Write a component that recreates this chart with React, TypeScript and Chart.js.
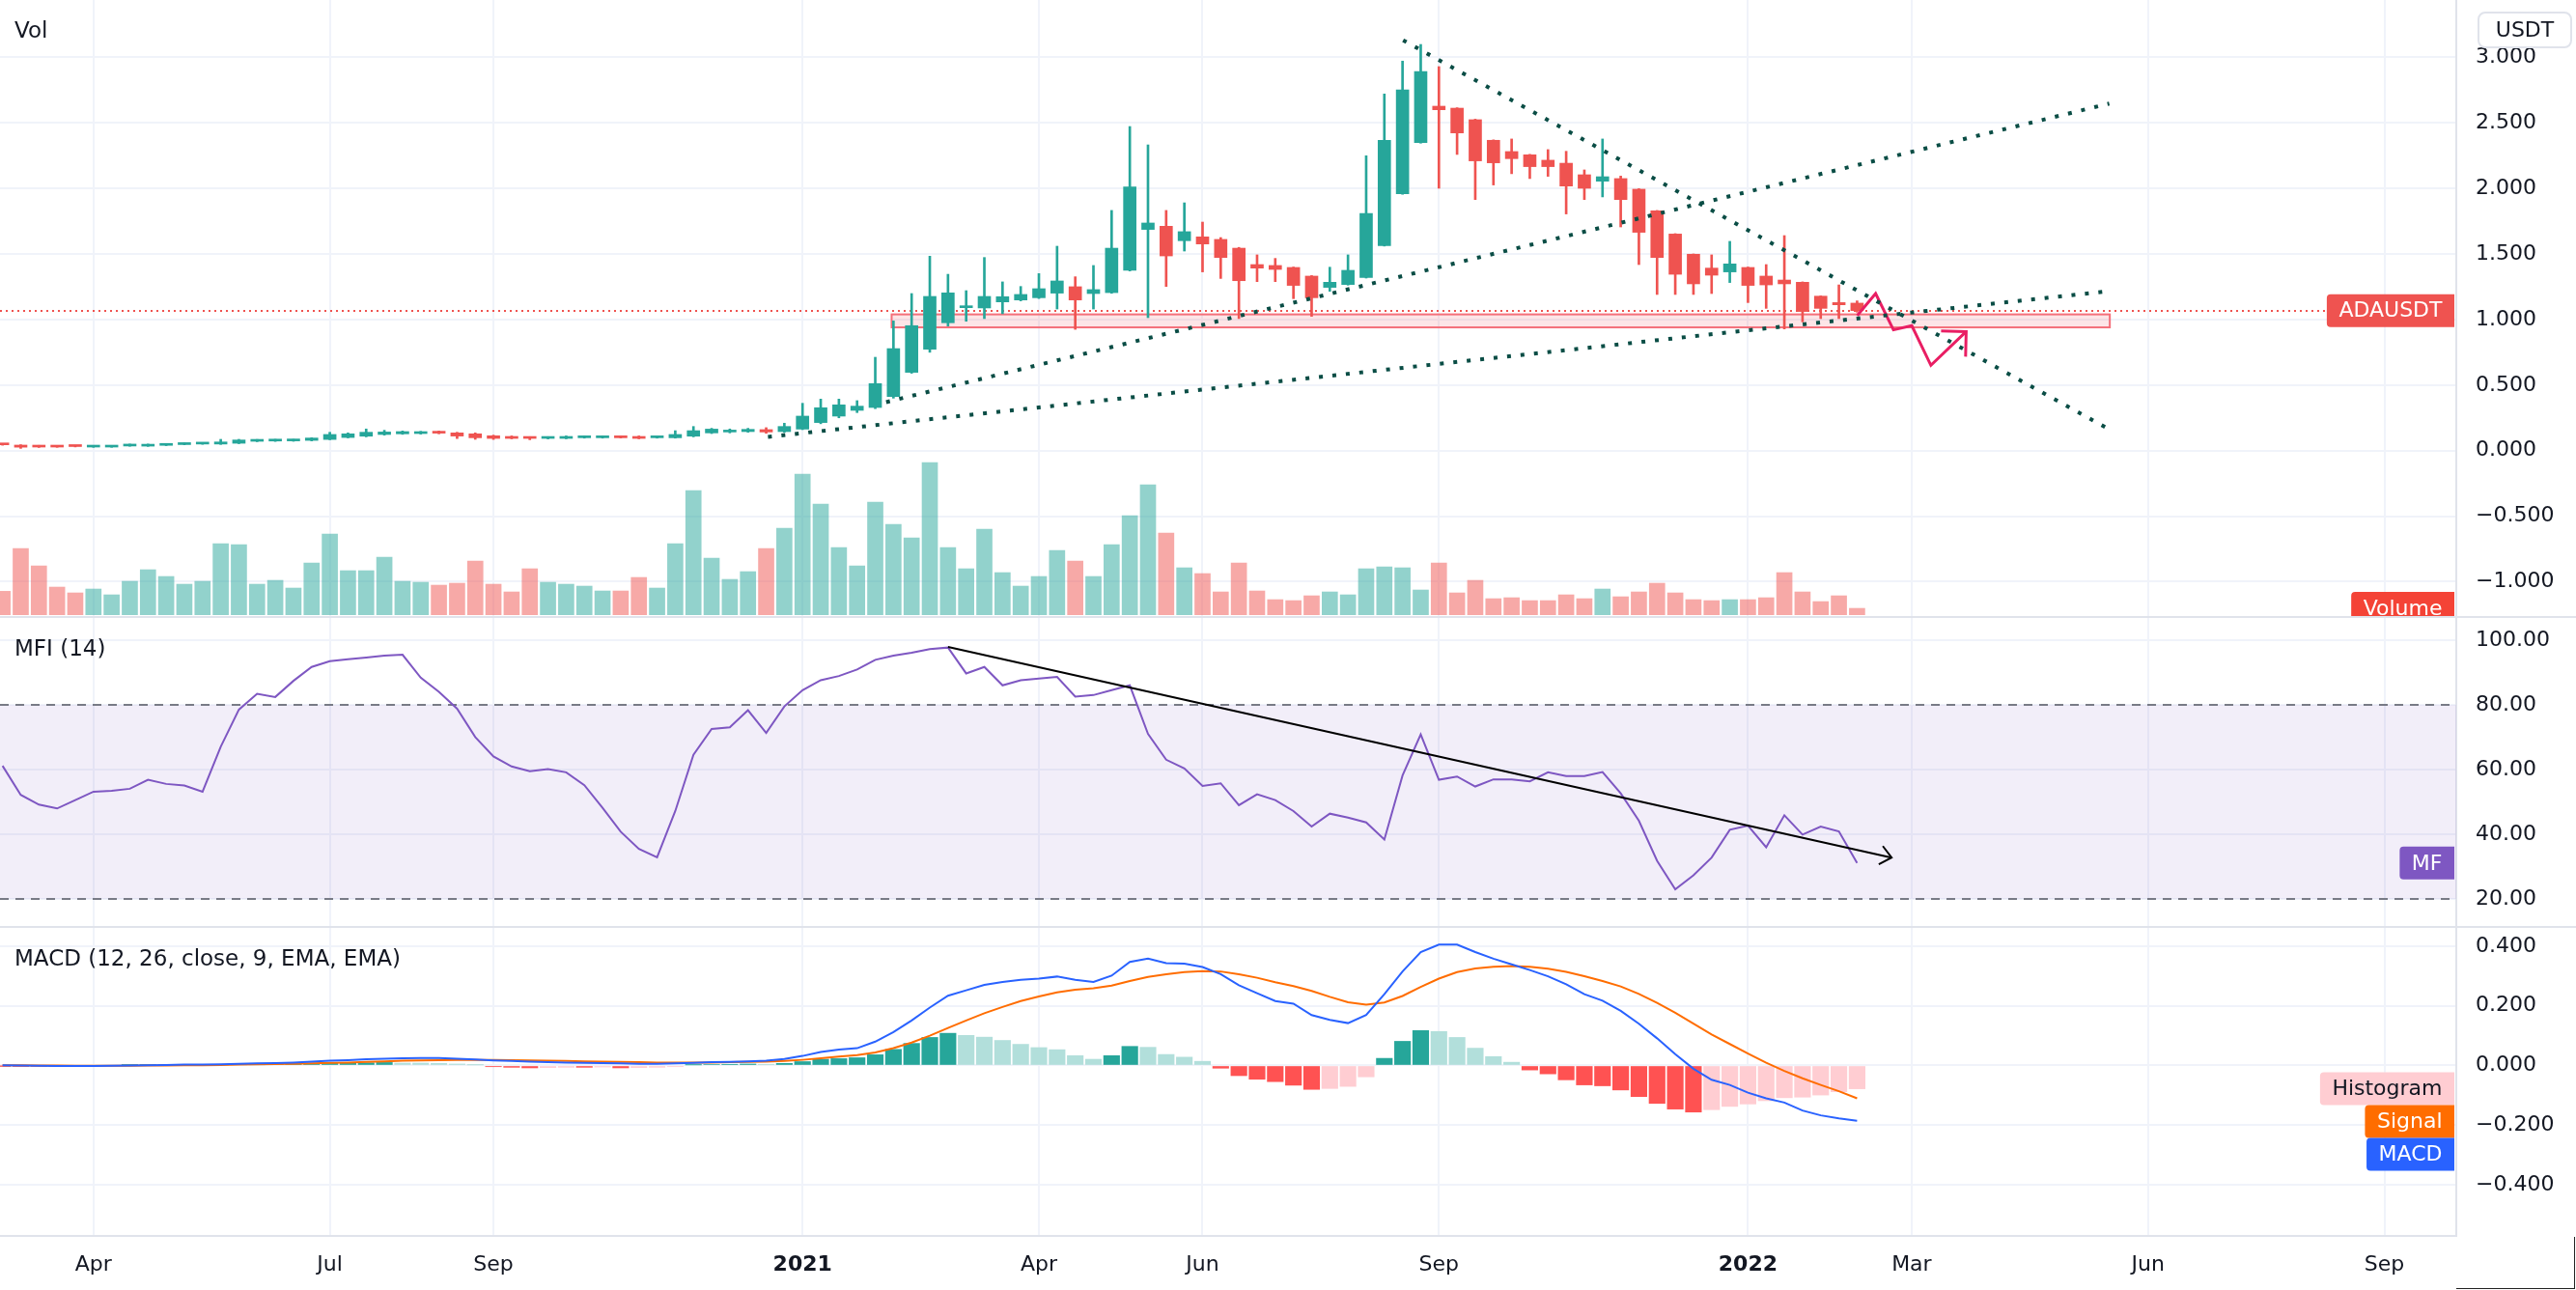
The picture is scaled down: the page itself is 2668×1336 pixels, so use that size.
import React, { useEffect, useRef } from 'react';
import { Chart, registerables } from 'chart.js';

Chart.register(...registerables);

// ================= DATA (weekly bars, index 0 = week of 2020-03-02) =================
const FIRST_WEEK = '2020-03-02';
const TICK_INDEX = [5, 18, 27, 44, 57, 66, 79, 96, 105, 118, 131];
const TICK_LABELS = ['Apr', 'Jul', 'Sep', '2021', 'Apr', 'Jun', 'Sep', '2022', 'Mar', 'Jun', 'Sep'];
const YEAR_TICKS = [44, 96];

const PRICE_TICKS = [3, 2.5, 2, 1.5, 1, 0.5, 0, -0.5, -1];
const MFI_TICKS = [100, 80, 60, 40, 20];
const MACD_TICKS = [0.4, 0.2, 0, -0.2, -0.4];
const MFI_BAND = [20, 80];

const OPEN = [0.050,0.042,0.036,0.032,0.034,0.027,0.027,0.035,0.034,0.040, 0.046,0.050,0.050,0.056,0.071,0.073,0.074,0.078,0.085,0.100, 0.110,0.123,0.128,0.130,0.140,0.135,0.128,0.113,0.108,0.103, 0.093,0.093,0.098,0.098,0.106,0.108,0.098,0.098,0.110,0.135, 0.142,0.145,0.160,0.145,0.164,0.214,0.263,0.307,0.329,0.412, 0.597,0.773,0.975,1.090,1.088,1.134,1.149,1.166,1.201,1.250, 1.198,1.205,1.375,1.687,1.711,1.601,1.630,1.611,1.544,1.419, 1.412,1.397,1.331,1.245,1.267,1.321,1.564,1.959,2.350,2.627, 2.612,2.524,2.367,2.281,2.256,2.215,2.192,2.104,2.055,2.075, 1.994,1.829,1.652,1.498,1.392,1.363,1.397,1.331,1.301,1.284, 1.178,1.129,1.125];
const HIGH = [0.053,0.045,0.040,0.036,0.037,0.038,0.039,0.050,0.050,0.052, 0.057,0.058,0.086,0.086,0.085,0.086,0.086,0.098,0.140,0.135, 0.165,0.155,0.150,0.147,0.150,0.140,0.135,0.118,0.112,0.106, 0.106,0.112,0.112,0.112,0.110,0.112,0.108,0.152,0.184,0.170, 0.165,0.170,0.175,0.209,0.361,0.393,0.393,0.381,0.712,0.989, 1.198,1.483,1.345,1.220,1.473,1.287,1.252,1.350,1.559,1.326, 1.412,1.832,2.472,2.332,1.832,1.890,1.743,1.625,1.550,1.493, 1.466,1.400,1.335,1.399,1.493,2.249,2.720,2.971,3.098,2.929, 2.615,2.528,2.370,2.377,2.260,2.296,2.283,2.141,2.377,2.094, 1.998,1.832,1.655,1.500,1.493,1.596,1.400,1.419,1.640,1.287, 1.180,1.264,1.142];
const LOW = [0.041,0.017,0.024,0.025,0.028,0.025,0.025,0.033,0.032,0.038, 0.044,0.048,0.047,0.053,0.068,0.070,0.071,0.074,0.083,0.097, 0.105,0.118,0.124,0.126,0.128,0.092,0.086,0.085,0.090,0.083, 0.089,0.090,0.095,0.095,0.096,0.090,0.095,0.095,0.105,0.130, 0.135,0.140,0.132,0.140,0.160,0.205,0.250,0.290,0.320,0.400, 0.590,0.750,0.950,0.987,1.007,1.044,1.142,1.160,1.080,0.925, 1.080,1.200,1.370,1.014,1.252,1.522,1.363,1.313,1.007,1.289, 1.289,1.159,1.024,1.215,1.262,1.316,1.560,1.955,2.345,2.001, 2.259,1.915,2.026,2.112,2.075,2.092,1.805,1.915,1.935,1.706, 1.419,1.191,1.191,1.191,1.198,1.282,1.129,1.085,0.928,0.982, 1.007,1.007,1.056];
const CLOSE = [0.044,0.026,0.027,0.027,0.031,0.036,0.036,0.043,0.048,0.049, 0.056,0.054,0.066,0.081,0.081,0.083,0.084,0.096,0.123,0.128, 0.140,0.142,0.145,0.140,0.133,0.111,0.098,0.093,0.093,0.093, 0.103,0.108,0.108,0.108,0.098,0.093,0.105,0.123,0.152,0.164, 0.152,0.162,0.142,0.184,0.263,0.327,0.349,0.339,0.511,0.778, 0.953,1.176,1.203,1.095,1.176,1.174,1.191,1.235,1.294,1.149, 1.228,1.544,2.011,1.736,1.485,1.670,1.576,1.473,1.296,1.392, 1.382,1.260,1.166,1.284,1.375,1.809,2.367,2.752,2.892,2.600, 2.423,2.210,2.195,2.227,2.166,2.166,2.018,2.001,2.089,1.915, 1.665,1.473,1.345,1.272,1.338,1.424,1.260,1.264,1.272,1.061, 1.085,1.112,1.068];
const VOLUME = [1460,4120,3040,1720,1360,1600,1240,2080,2800,2380, 1900,2080,4420,4360,1900,2140,1660,3220,5020,2740, 2740,3580,2080,2020,1840,1960,3340,1900,1420,2860, 2020,1900,1780,1480,1480,2320,1660,4420,7720,3520, 2200,2680,4120,5380,8740,6880,4180,3040,7000,5620, 4780,9460,4180,2860,5320,2620,1780,2380,4000,3340, 2380,4360,6160,8080,5080,2920,2560,1420,3220,1480, 940,880,1180,1420,1240,2860,2980,2920,1540,3220, 1360,2140,1000,1060,880,880,1240,1000,1600,1120, 1420,1960,1360,940,880,940,940,1060,2620,1420, 820,1180,400];
const MFI = [61.2,52.2,49.2,48.0,50.6,53.2,53.5,54.1,56.9,55.6, 55.1,53.2,67.1,78.6,83.5,82.5,87.5,91.8,93.6,94.2, 94.7,95.3,95.6,88.5,84.1,78.9,70.1,64.1,61.0,59.5, 60.2,59.2,55.2,48.2,40.8,35.5,32.9,47.2,64.6,72.6, 73.1,78.4,71.4,79.6,84.6,87.7,89.0,91.0,94.0,95.3, 96.2,97.3,97.8,89.8,91.8,86.1,87.7,88.2,88.7,82.6, 83.1,84.6,86.1,71.1,63.1,60.4,55.0,55.8,49.0,52.4, 50.6,47.2,42.4,46.4,45.2,43.7,38.4,58.2,70.9,56.9, 57.9,54.8,57.0,57.0,56.4,59.2,58.0,58.0,59.3,52.7, 44.2,31.8,23.0,27.3,32.8,41.4,42.7,36.0,45.9,39.9, 42.4,40.9,31.1];
const MACD = [0.001,0.000,-0.001,-0.002,-0.002,-0.002,-0.001,0.000,0.001,0.002, 0.003,0.003,0.004,0.006,0.007,0.008,0.010,0.013,0.016,0.018, 0.021,0.023,0.024,0.025,0.025,0.023,0.020,0.017,0.015,0.013, 0.011,0.010,0.009,0.008,0.007,0.006,0.006,0.007,0.009,0.011, 0.012,0.014,0.016,0.022,0.032,0.045,0.053,0.058,0.080,0.112, 0.151,0.194,0.234,0.252,0.270,0.280,0.287,0.291,0.298,0.287, 0.280,0.301,0.347,0.358,0.343,0.341,0.330,0.306,0.269,0.242, 0.216,0.207,0.169,0.153,0.142,0.169,0.239,0.315,0.380,0.405, 0.405,0.380,0.358,0.339,0.320,0.299,0.272,0.239,0.217,0.183, 0.140,0.091,0.038,-0.011,-0.048,-0.065,-0.091,-0.110,-0.124,-0.151, -0.167,-0.177,-0.185];
const SIGNAL = [0.001,0.001,0.000,0.000,-0.001,-0.001,-0.001,-0.001,0.000,0.000, 0.001,0.001,0.002,0.003,0.004,0.005,0.006,0.007,0.009,0.010, 0.012,0.014,0.016,0.017,0.018,0.019,0.019,0.019,0.018,0.017, 0.016,0.015,0.014,0.013,0.012,0.011,0.010,0.010,0.010,0.010, 0.011,0.012,0.013,0.015,0.019,0.024,0.030,0.035,0.044,0.058, 0.077,0.100,0.126,0.151,0.175,0.196,0.216,0.231,0.245,0.254, 0.259,0.268,0.283,0.297,0.306,0.313,0.316,0.315,0.306,0.294, 0.279,0.266,0.250,0.230,0.212,0.204,0.211,0.233,0.263,0.291, 0.313,0.325,0.331,0.333,0.331,0.324,0.314,0.299,0.283,0.265, 0.240,0.210,0.177,0.140,0.104,0.072,0.040,0.009,-0.018,-0.043, -0.065,-0.086,-0.110];
const HIST = [-0.001,-0.002,-0.003,-0.003,-0.003,-0.001,0.000,0.001,0.002,0.003, 0.003,0.003,0.002,0.002,0.002,0.003,0.004,0.006,0.007,0.008, 0.009,0.010,0.008,0.008,0.007,0.005,0.002,-0.004,-0.006,-0.008, -0.007,-0.006,-0.006,-0.005,-0.008,-0.007,-0.006,-0.004,0.002,0.003, 0.004,0.005,0.004,0.007,0.013,0.021,0.023,0.026,0.036,0.054, 0.074,0.094,0.108,0.101,0.095,0.084,0.071,0.060,0.053,0.033, 0.021,0.033,0.064,0.061,0.037,0.028,0.014,-0.009,-0.034,-0.046, -0.054,-0.066,-0.080,-0.077,-0.070,-0.038,0.024,0.081,0.117,0.114, 0.094,0.058,0.030,0.011,-0.015,-0.028,-0.048,-0.065,-0.068,-0.082, -0.104,-0.127,-0.146,-0.156,-0.148,-0.137,-0.129,-0.118,-0.108,-0.106, -0.099,-0.088,-0.078];

// chart drawings (bar index, value)
const TREND_DOWN_X = [77.03, 115.68];
const TREND_DOWN_Y = [3.13, 0.177];
const TREND_UP_X = [48.6, 115.87];
const TREND_UP_Y = [0.37, 2.647];
const TREND_LOW_X = [42.1, 115.75];
const TREND_LOW_Y = [0.105, 1.215];
const ZONE_X = [48.9, 115.9];
const ZONE_Y = [0.94, 1.039];
const PATH_X = [102.01, 103.02, 104.0, 105.01, 106.06, 108.0];
const PATH_Y = [1.031, 1.198, 0.921, 0.953, 0.651, 0.908];
const MFI_TREND_X = [52, 103.9];
const MFI_TREND_Y = [98.0, 32.8];

// ================= VIEW / STYLE =================
const X_RANGE = [-0.14, 134.956];
const PRICE_RANGE = [-1.2618, 3.437];
const VOL_RANGE = [-78, 38202];
const MFI_RANGE = [11.633, 106.963];
const MACD_RANGE = [-0.571, 0.461];

const W = 2668;
const AXIS_W = 124;
const FONT = '"DejaVu Sans", Roboto, sans-serif';
const TXT = '#131722';
const GRID = '#f0f3fa';
const SEP = '#e0e3eb';
const UP = '#26a69a';
const DOWN = '#ef5350';
const UP_VOL = 'rgba(38,166,154,0.5)';
const DOWN_VOL = 'rgba(239,83,80,0.5)';
const DOT_TEAL = '#0a4d45';
const PINK = '#e91e63';

const pts = (xs: number[], ys: number[]) => xs.map((x, i) => ({ x, y: ys[i] }));
const last = (a: number[]) => a[a.length - 1];

function fmtSigned(d: number) {
  return (v: number) => {
    const s = Math.abs(v).toFixed(d);
    return v < -1e-9 ? '\u2212' + s : s;
  };
}

function xAxis(labels: boolean): any {
  return {
    type: 'linear',
    min: X_RANGE[0],
    max: X_RANGE[1],
    bounds: 'data',
    offset: false,
    afterBuildTicks: (s: any) => {
      s.ticks = TICK_INDEX.map((v) => ({ value: v }));
    },
    afterFit: (s: any) => {
      s.height = labels ? 56 : 0;
      s.paddingLeft = 0;
      s.paddingRight = 0;
    },
    grid: { color: GRID, lineWidth: 2, drawTicks: false, offset: false },
    border: { display: labels, color: SEP, width: 2 },
    ticks: {
      display: labels,
      autoSkip: false,
      maxRotation: 0,
      minRotation: 0,
      padding: 17,
      color: TXT,
      font: (c: any) => ({
        family: FONT,
        size: 22,
        weight: c.tick && YEAR_TICKS.includes(c.tick.value) ? 'bold' : 'normal',
      }),
      callback: (v: number) => {
        const k = TICK_INDEX.indexOf(v);
        return k >= 0 ? TICK_LABELS[k] : '';
      },
    },
  };
}

function yAxis(range: number[], ticks: number[], fmt: (v: number) => string): any {
  return {
    type: 'linear',
    position: 'right',
    min: range[0],
    max: range[1],
    bounds: 'data',
    afterBuildTicks: (s: any) => {
      s.ticks = ticks.map((v) => ({ value: v }));
    },
    afterFit: (s: any) => {
      s.width = AXIS_W;
      s.paddingTop = 0;
      s.paddingBottom = 0;
    },
    grid: { color: GRID, lineWidth: 2, drawTicks: false },
    border: { display: true, color: SEP, width: 2 },
    ticks: { autoSkip: false, padding: 20, color: TXT, font: { family: FONT, size: 22 }, callback: fmt },
  };
}

const baseOptions: any = {
  responsive: false,
  animation: false,
  devicePixelRatio: 1,
  events: [],
  layout: { padding: 0, autoPadding: false },
  plugins: { legend: { display: false }, tooltip: { enabled: false } },
};

function drawTag(ctx: CanvasRenderingContext2D, text: string, right: number, cy: number, bg: string, fg: string) {
  ctx.save();
  ctx.font = `22px ${FONT}`;
  const w = ctx.measureText(text).width + 25;
  const h = 34;
  ctx.fillStyle = bg;
  ctx.beginPath();
  (ctx as any).roundRect(right - w, cy - h / 2, w, h, [4, 0, 0, 4]);
  ctx.fill();
  ctx.fillStyle = fg;
  ctx.textAlign = 'center';
  ctx.textBaseline = 'middle';
  ctx.fillText(text, right - w / 2, cy + 1);
  ctx.restore();
}

function drawTitle(ctx: CanvasRenderingContext2D, text: string) {
  ctx.save();
  ctx.font = `23px ${FONT}`;
  ctx.fillStyle = TXT;
  ctx.textAlign = 'left';
  ctx.textBaseline = 'middle';
  ctx.fillText(text, 15, 33);
  ctx.restore();
}

function arrowHead(ctx: CanvasRenderingContext2D, x0: number, y0: number, x1: number, y1: number, len: number, ang: number, color: string, width: number) {
  const a = Math.atan2(y0 - y1, x0 - x1);
  ctx.save();
  ctx.strokeStyle = color;
  ctx.lineWidth = width;
  ctx.lineJoin = 'miter';
  ctx.beginPath();
  ctx.moveTo(x1 + len * Math.cos(a + ang), y1 + len * Math.sin(a + ang));
  ctx.lineTo(x1, y1);
  ctx.lineTo(x1 + len * Math.cos(a - ang), y1 + len * Math.sin(a - ang));
  ctx.stroke();
  ctx.restore();
}

// ================= CHART CONFIGS =================
function priceConfig(): any {
  const isUp = OPEN.map((o, i) => CLOSE[i] >= o);
  const candleColors = isUp.map((u) => (u ? UP : DOWN));
  const volColors = isUp.map((u) => (u ? UP_VOL : DOWN_VOL));
  const dotted = (xs: number[], ys: number[]) => ({
    type: 'line',
    data: pts(xs, ys),
    borderColor: DOT_TEAL,
    borderWidth: 4,
    borderDash: [4, 10],
    pointRadius: 0,
    fill: false,
    xAxisID: 'x',
    yAxisID: 'y',
    order: 0,
  });

  const plugin = {
    id: 'pricePane',
    beforeDatasetsDraw(chart: any) {
      const { ctx, chartArea: a, scales } = chart;
      const x = scales.x;
      const y = scales.y;
      ctx.save();
      // support zone
      const zx0 = x.getPixelForValue(ZONE_X[0]);
      const zx1 = x.getPixelForValue(ZONE_X[1]);
      const zy0 = y.getPixelForValue(ZONE_Y[1]);
      const zy1 = y.getPixelForValue(ZONE_Y[0]);
      ctx.fillStyle = 'rgba(242,54,69,0.13)';
      ctx.fillRect(zx0, zy0, zx1 - zx0, zy1 - zy0);
      ctx.strokeStyle = '#f4707a';
      ctx.lineWidth = 2;
      ctx.strokeRect(zx0, zy0, zx1 - zx0, zy1 - zy0);
      // last price line
      const ly = Math.round(y.getPixelForValue(last(CLOSE)));
      ctx.strokeStyle = DOWN;
      ctx.lineWidth = 2;
      ctx.setLineDash([2, 4]);
      ctx.beginPath();
      ctx.moveTo(a.left, ly);
      ctx.lineTo(a.right, ly);
      ctx.stroke();
      ctx.restore();
    },
    afterDatasetsDraw(chart: any) {
      const { ctx, scales } = chart;
      const n = PATH_X.length;
      arrowHead(
        ctx,
        scales.x.getPixelForValue(PATH_X[n - 2]),
        scales.y.getPixelForValue(PATH_Y[n - 2]),
        scales.x.getPixelForValue(PATH_X[n - 1]),
        scales.y.getPixelForValue(PATH_Y[n - 1]),
        26,
        Math.PI / 4,
        PINK,
        3
      );
    },
    afterDraw(chart: any) {
      const { ctx, chartArea: a, scales } = chart;
      drawTitle(ctx, 'Vol');
      // currency box
      ctx.save();
      ctx.fillStyle = '#ffffff';
      ctx.strokeStyle = SEP;
      ctx.lineWidth = 2;
      ctx.beginPath();
      (ctx as any).roundRect(a.right + 23, 13, 96, 36, 7);
      ctx.fill();
      ctx.stroke();
      ctx.font = `22px ${FONT}`;
      ctx.fillStyle = TXT;
      ctx.textAlign = 'center';
      ctx.textBaseline = 'middle';
      ctx.fillText('USDT', a.right + 71, 32);
      ctx.restore();
      drawTag(ctx, 'ADAUSDT', a.right - 2, scales.y.getPixelForValue(last(CLOSE)), DOWN, '#ffffff');
      ctx.save();
      ctx.beginPath();
      ctx.rect(a.left, a.top, a.right - a.left, a.bottom - a.top);
      ctx.clip();
      drawTag(ctx, 'Volume', a.right - 2, scales.yVol.getPixelForValue(last(VOLUME)), '#f44336', '#ffffff');
      ctx.restore();
    },
  };

  return {
    type: 'bar',
    data: {
      datasets: [
        dotted(TREND_DOWN_X, TREND_DOWN_Y),
        dotted(TREND_UP_X, TREND_UP_Y),
        dotted(TREND_LOW_X, TREND_LOW_Y),
        {
          type: 'line',
          data: pts(PATH_X, PATH_Y),
          borderColor: PINK,
          borderWidth: 3,
          pointRadius: 0,
          fill: false,
          xAxisID: 'x',
          yAxisID: 'y',
          order: 0,
        },
        {
          type: 'bar',
          data: OPEN.map((o, i) => ({ x: i, y: [o, CLOSE[i]] })),
          backgroundColor: candleColors,
          barThickness: 13,
          minBarLength: 2,
          grouped: false,
          xAxisID: 'x',
          yAxisID: 'y',
          order: 1,
        },
        {
          type: 'bar',
          data: LOW.map((l, i) => ({ x: i, y: [l, HIGH[i]] })),
          backgroundColor: candleColors,
          barThickness: 2,
          grouped: false,
          xAxisID: 'x',
          yAxisID: 'y',
          order: 2,
        },
        {
          type: 'bar',
          data: VOLUME.map((v, i) => ({ x: i, y: v })),
          backgroundColor: volColors,
          barThickness: 16,
          grouped: false,
          xAxisID: 'x',
          yAxisID: 'yVol',
          order: 3,
        },
      ],
    },
    options: {
      ...baseOptions,
      scales: {
        x: xAxis(false),
        y: yAxis(PRICE_RANGE, PRICE_TICKS, fmtSigned(3)),
        yVol: {
          type: 'linear',
          display: false,
          position: 'right',
          min: VOL_RANGE[0],
          max: VOL_RANGE[1],
          bounds: 'data',
        },
      },
    },
    plugins: [plugin],
  };
}

function mfiConfig(): any {
  const plugin = {
    id: 'mfiPane',
    beforeDatasetsDraw(chart: any) {
      const { ctx, chartArea: a, scales } = chart;
      const y = scales.y;
      const yTop = y.getPixelForValue(MFI_BAND[1]);
      const yBot = y.getPixelForValue(MFI_BAND[0]);
      ctx.save();
      ctx.fillStyle = 'rgba(126,87,194,0.1)';
      ctx.fillRect(a.left, yTop, a.right - a.left, yBot - yTop);
      ctx.strokeStyle = '#787b86';
      ctx.lineWidth = 2;
      ctx.setLineDash([9, 7]);
      for (const yy of [yTop, yBot]) {
        ctx.beginPath();
        ctx.moveTo(a.left, Math.round(yy));
        ctx.lineTo(a.right, Math.round(yy));
        ctx.stroke();
      }
      ctx.restore();
    },
    afterDatasetsDraw(chart: any) {
      const { ctx, scales } = chart;
      arrowHead(
        ctx,
        scales.x.getPixelForValue(MFI_TREND_X[0]),
        scales.y.getPixelForValue(MFI_TREND_Y[0]),
        scales.x.getPixelForValue(MFI_TREND_X[1]),
        scales.y.getPixelForValue(MFI_TREND_Y[1]),
        15,
        (40 * Math.PI) / 180,
        '#000000',
        2
      );
    },
    afterDraw(chart: any) {
      const { ctx, chartArea: a, scales } = chart;
      drawTitle(ctx, 'MFI (14)');
      drawTag(ctx, 'MF', a.right - 2, scales.y.getPixelForValue(last(MFI)), '#7e57c2', '#ffffff');
    },
  };
  return {
    type: 'line',
    data: {
      datasets: [
        {
          data: pts(MFI_TREND_X, MFI_TREND_Y),
          borderColor: '#000000',
          borderWidth: 2,
          pointRadius: 0,
          fill: false,
          xAxisID: 'x',
          yAxisID: 'y',
          order: 0,
        },
        {
          data: MFI.map((v, i) => ({ x: i, y: v })),
          borderColor: '#7e57c2',
          borderWidth: 2,
          pointRadius: 0,
          fill: false,
          tension: 0,
          xAxisID: 'x',
          yAxisID: 'y',
          order: 1,
        },
      ],
    },
    options: {
      ...baseOptions,
      scales: {
        x: xAxis(false),
        y: yAxis(MFI_RANGE, MFI_TICKS, (v: number) => v.toFixed(2)),
      },
    },
    plugins: [plugin],
  };
}

function macdConfig(): any {
  const histColors = HIST.map((h, i) => {
    const prev = i > 0 ? HIST[i - 1] : 0;
    if (h >= 0) return prev < h ? '#26a69a' : '#b2dfdb';
    return prev < h ? '#ffcdd2' : '#ff5252';
  });
  const plugin = {
    id: 'macdPane',
    afterDraw(chart: any) {
      const { ctx, chartArea: a, scales } = chart;
      drawTitle(ctx, 'MACD (12, 26, close, 9, EMA, EMA)');
      const y0 = scales.y.getPixelForValue(last(HIST));
      drawTag(ctx, 'Histogram', a.right - 2, y0, '#ffcdd2', TXT);
      drawTag(ctx, 'Signal', a.right - 2, y0 + 34, '#ff6d00', '#ffffff');
      drawTag(ctx, 'MACD', a.right - 2, y0 + 68, '#2962ff', '#ffffff');
    },
  };
  return {
    type: 'bar',
    data: {
      datasets: [
        {
          type: 'line',
          data: MACD.map((v, i) => ({ x: i, y: v })),
          borderColor: '#2962ff',
          borderWidth: 2,
          pointRadius: 0,
          fill: false,
          xAxisID: 'x',
          yAxisID: 'y',
          order: 0,
        },
        {
          type: 'line',
          data: SIGNAL.map((v, i) => ({ x: i, y: v })),
          borderColor: '#ff6d00',
          borderWidth: 2,
          pointRadius: 0,
          fill: false,
          xAxisID: 'x',
          yAxisID: 'y',
          order: 0,
        },
        {
          type: 'bar',
          data: HIST.map((v, i) => ({ x: i, y: v })),
          backgroundColor: histColors,
          barThickness: 16.5,
          grouped: false,
          xAxisID: 'x',
          yAxisID: 'y',
          order: 1,
        },
      ],
    },
    options: {
      ...baseOptions,
      scales: {
        x: xAxis(true),
        y: yAxis(MACD_RANGE, MACD_TICKS, fmtSigned(3)),
      },
    },
    plugins: [plugin],
  };
}

export default function App() {
  const priceRef = useRef<HTMLCanvasElement>(null);
  const mfiRef = useRef<HTMLCanvasElement>(null);
  const macdRef = useRef<HTMLCanvasElement>(null);

  useEffect(() => {
    const charts: Chart[] = [];
    if (priceRef.current) charts.push(new Chart(priceRef.current, priceConfig()));
    if (mfiRef.current) charts.push(new Chart(mfiRef.current, mfiConfig()));
    if (macdRef.current) charts.push(new Chart(macdRef.current, macdConfig()));
    return () => charts.forEach((c) => c.destroy());
  }, []);

  const abs = (top: number, height: number): React.CSSProperties => ({
    position: 'absolute',
    left: 0,
    top,
    width: W,
    height,
    display: 'block',
  });

  return (
    <div
      data-first-week={FIRST_WEEK}
      style={{ position: 'fixed', left: 0, top: 0, width: W, height: 1336, background: '#ffffff', overflow: 'hidden' }}
    >
      <canvas ref={priceRef} width={W} height={638} style={abs(0, 638)} />
      <div style={{ ...abs(638, 2), background: SEP }} />
      <canvas ref={mfiRef} width={W} height={319} style={abs(640, 319)} />
      <div style={{ ...abs(959, 2), background: SEP }} />
      <canvas ref={macdRef} width={W} height={375} style={abs(961, 375)} />
      <div
        style={{
          position: 'absolute',
          left: W - AXIS_W,
          top: 1281,
          width: AXIS_W - 2,
          height: 53,
          borderRight: '1px solid #222',
          borderBottom: '1px solid #222',
        }}
      />
    </div>
  );
}
